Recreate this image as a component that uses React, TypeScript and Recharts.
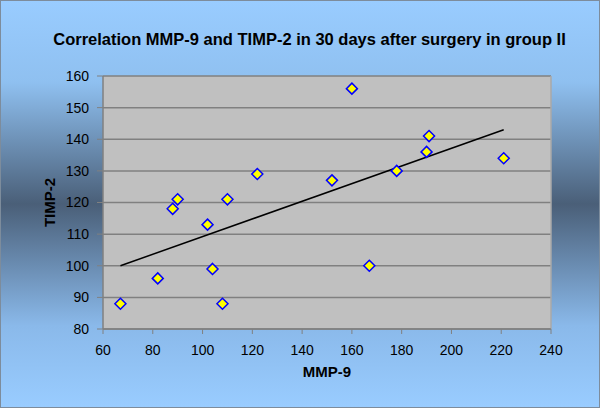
import { CartesianGrid, ReferenceLine, Scatter, ScatterChart, XAxis, YAxis } from "recharts";

const mmp9 = [67, 82, 88, 90, 102, 104, 108, 110, 122, 152, 160, 167, 178, 190, 191, 221];
const timp2 = [88, 96, 118, 121, 113, 99, 88, 121, 129, 127, 156, 100, 130, 136, 141, 134];

// trend line end points
const trendX = [67, 221];
const trendY = [100, 143];

const xTicks = [60, 80, 100, 120, 140, 160, 180, 200, 220, 240];
const yTicks = [80, 90, 100, 110, 120, 130, 140, 150, 160];

const points = mmp9.map((x, i) => ({ x, y: timp2[i] }));
const trend = trendX.map((x, i) => ({ x, y: trendY[i] }));

const font = "'Liberation Sans', Arial, sans-serif";

function Diamond({ cx, cy }: { cx?: number; cy?: number }) {
  if (cx == null || cy == null) return <g />;
  const r = 5.5;
  return (
    <polygon
      points={`${cx},${cy - r} ${cx + r},${cy} ${cx},${cy + r} ${cx - r},${cy}`}
      fill="#ffff00"
      stroke="#0000ff"
      strokeWidth={1.5}
    />
  );
}

export default function App() {
  return (
    <div
      style={{
        position: "absolute",
        left: 0,
        top: 0,
        width: 600,
        height: 408,
        boxSizing: "border-box",
        border: "1px solid #7d8c9c",
        background:
          "linear-gradient(to bottom, #99ccff 0%, #8fc0f0 20%, #4a5f78 50%, #8ab9ea 80%, #99ccff 100%)",
        fontFamily: font,
      }}
    >
      <div
        style={{
          position: "absolute",
          left: 0,
          top: 29,
          width: 617,
          textAlign: "center",
          fontSize: 16.5,
          fontWeight: "bold",
          color: "#000",
        }}
      >
        Correlation MMP-9 and TIMP-2 in 30 days after surgery in group II
      </div>
      <div style={{ position: "absolute", left: -1, top: -1 }}>
        <ScatterChart
          width={600}
          height={408}
          margin={{ top: 76, right: 49, bottom: 29, left: 43 }}
        >
          <CartesianGrid vertical={false} fill="#c0c0c0" stroke="#808080" strokeWidth={1.5} />
          <XAxis
            type="number"
            dataKey="x"
            domain={[60, 240]}
            ticks={xTicks}
            height={50}
            axisLine={{ stroke: "#808080", strokeWidth: 1.5 }}
            tickLine={{ stroke: "#808080" }}
            tickSize={5}
            tickMargin={11}
            tick={{ fill: "#000", fontSize: 14, fontFamily: font }}
            label={{
              content: ({ viewBox }: any) => (
                <text
                  x={viewBox.x + viewBox.width / 2}
                  y={viewBox.y + 48}
                  textAnchor="middle"
                  fontSize={15}
                  fontWeight="bold"
                  fontFamily={font}
                  fill="#000"
                >
                  MMP-9
                </text>
              ),
            }}
          />
          <YAxis
            type="number"
            dataKey="y"
            domain={[80, 160]}
            ticks={yTicks}
            width={60}
            axisLine={{ stroke: "#808080", strokeWidth: 1.5 }}
            tickLine={{ stroke: "#808080" }}
            tickSize={6}
            tickMargin={8}
            tick={{ fill: "#000", fontSize: 14, fontFamily: font }}
            label={{
              content: ({ viewBox }: any) => {
                const x = viewBox.x + 6;
                const y = viewBox.y + viewBox.height / 2;
                return (
                  <text
                    x={x}
                    y={y}
                    transform={`rotate(-90 ${x} ${y})`}
                    textAnchor="middle"
                    dominantBaseline="central"
                    fontSize={15}
                    fontWeight="bold"
                    fontFamily={font}
                    fill="#000"
                  >
                    TIMP-2
                  </text>
                );
              },
            }}
          />
          <ReferenceLine x={240} stroke="#a8a8a8" strokeWidth={1.5} />
          <Scatter
            data={trend}
            line={{ stroke: "#000", strokeWidth: 1.5 }}
            shape={() => <g />}
            isAnimationActive={false}
          />
          <Scatter data={points} shape={<Diamond />} isAnimationActive={false} />
        </ScatterChart>
      </div>
    </div>
  );
}
